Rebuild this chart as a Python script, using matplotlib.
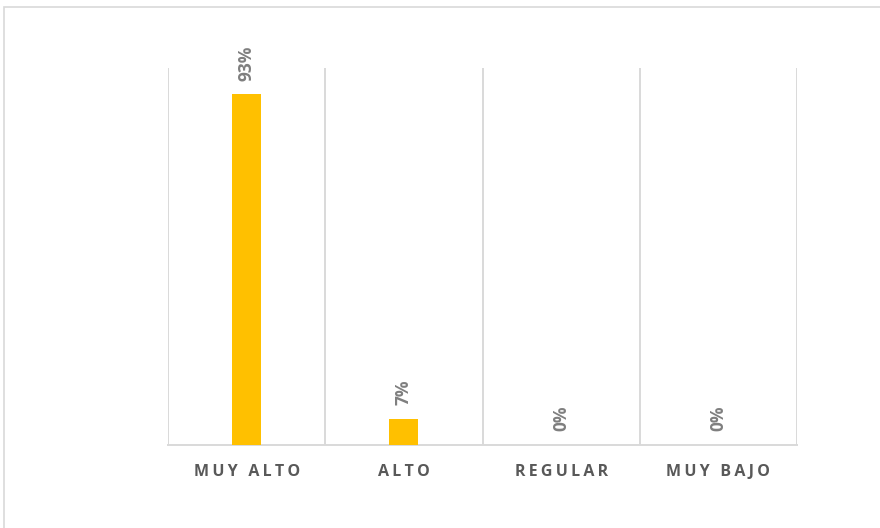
import matplotlib.pyplot as plt
from matplotlib.patches import Rectangle
import numpy as np

categories = ["MUY ALTO", "ALTO", "REGULAR", "MUY BAJO"]
values = [0.93, 0.07, 0.0, 0.0]
value_labels = ["93%", "7%", "0%", "0%"]

plt.rcParams['font.family'] = ['Open Sans', 'DejaVu Sans']

fig = plt.figure(figsize=(8.8, 5.28), dpi=100)
ax = fig.add_axes([168 / 880, 83 / 528, 629 / 880, 377 / 528])

x = np.arange(len(categories))
ax.bar(x, values, width=0.185, color='#FFC000', zorder=3)

for xi, v, lab in zip(x, values, value_labels):
    ax.annotate(lab, (xi, v), xytext=(0, 10), textcoords='offset points',
                rotation=90, ha='center', va='bottom', fontsize=12.5,
                fontweight='bold', color='#7F7F7F')

ax.set_xlim(-0.5, len(categories) - 0.5)
ax.set_ylim(0, 1)

# category separators
for b in np.arange(-0.5, len(categories), 1.0):
    ax.axvline(b, color='#D9D9D9', lw=1.4, zorder=1)

for s in ['top', 'right', 'left']:
    ax.spines[s].set_visible(False)
ax.spines['bottom'].set_color('#D9D9D9')
ax.spines['bottom'].set_linewidth(1.4)

ax.set_yticks([])
ax.set_xticks(x)
ax.set_xticklabels(['\u2009'.join(c) for c in categories], fontsize=11.5,
                   fontweight='bold', color='#595959')
ax.tick_params(axis='x', length=0, pad=14)

# chart area outline
fig.patches.append(Rectangle((4 / 880, -0.1), 1.1, 1.1 - 7 / 528,
                             transform=fig.transFigure, fill=False,
                             edgecolor='#D9D9D9', lw=1.2))

fig.savefig('out.png', dpi=100)
